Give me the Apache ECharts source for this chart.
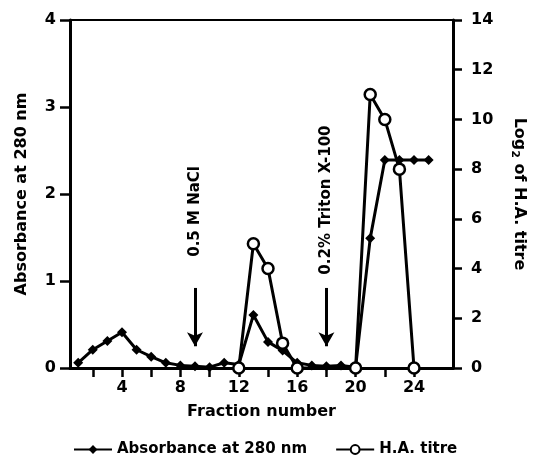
<!DOCTYPE html>
<html>
<head>
<meta charset="utf-8">
<script src="https://cdn.jsdelivr.net/npm/echarts@6/dist/echarts.min.js"></script>
<style>
html,body{margin:0;padding:0;background:#fff;}
#c{width:534px;height:460px;}
</style>
</head>
<body>
<div id="c"></div>
<script>
const fractions = [1,2,3,4,5,6,7,8,9,10,11,12,13,14,15,16,17,18,19,20,21,22,23,24,25];
const absorbance = [0.06,0.21,0.31,0.41,0.21,0.13,0.06,0.03,0.02,0.01,0.06,0.04,0.61,0.30,0.20,0.06,0.03,0.02,0.03,0.01,1.49,2.39,2.39,2.39,2.39];
const titreFractions = [12,13,14,15,16,17,18,19,20,21,22,23,24];
const titre = [0,5,4,1,0,null,null,null,0,11,10,8,0];
const xTickValues = [2,4,6,8,10,12,14,16,18,20,22,24];
const xLabelValues = [4,8,12,16,20,24];
const annotations = [
  {fraction: 9, text: '0.5 M NaCl', textY: 1.80},
  {fraction: 18, text: '0.2% Triton X-100', textY: 1.93}
];
const arrowTop = 0.92, arrowEnd = 0.25;

const FONT = 'DejaVu Sans';
const chart = echarts.init(document.getElementById('c'));
const axisLineStyle = {color:'#000', width:3};
chart.setOption({
  animation: false,
  backgroundColor: '#fff',
  grid: {left:70, right:81, top:20, bottom:92, show:true, borderColor:'#000', borderWidth:2, outerBoundsMode:'none', containLabel:false},
  legend: {
    left: 68, top: 437, itemWidth: 38, itemHeight: 11, itemGap: 28,
    textStyle: {fontFamily: FONT, fontWeight:'bold', fontSize:15, color:'#000'},
    data: ['Absorbance at 280 nm', 'H.A. titre']
  },
  xAxis: {
    type:'value', min:0.44, max:26.67,
    name:'Fraction number', nameLocation:'middle', nameGap:36,
    nameTextStyle:{fontFamily:FONT, fontWeight:'bold', fontSize:16, color:'#000'},
    axisLine:{lineStyle:axisLineStyle},
    axisTick:{show:true, length:9, lineStyle:{color:'#000', width:2.5}, customValues:xTickValues},
    axisLabel:{fontFamily:FONT, fontWeight:'bold', fontSize:16, color:'#000', margin:12, customValues:xLabelValues},
    splitLine:{show:false}
  },
  yAxis: [{
    type:'value', min:0, max:4, interval:1, position:'left',
    name:'Absorbance at 280 nm', nameLocation:'middle', nameGap:40, nameRotate:90,
    nameTextStyle:{fontFamily:FONT, fontWeight:'bold', fontSize:16, color:'#000'},
    axisLine:{show:true, lineStyle:axisLineStyle},
    axisTick:{show:true, length:10, lineStyle:{color:'#000', width:2.5}},
    axisLabel:{fontFamily:FONT, fontWeight:'bold', fontSize:16, color:'#000', margin:14},
    splitLine:{show:false}
  },{
    type:'value', min:0, max:14, interval:2, position:'right',
    name:'{a|Log}{s|2}{a| of H.A. titre}', nameLocation:'middle', nameGap:56, nameRotate:-90,
    nameTextStyle:{rich:{
      a:{fontFamily:FONT, fontWeight:'bold', fontSize:16, color:'#000', lineHeight:20},
      s:{fontFamily:FONT, fontWeight:'bold', fontSize:11, color:'#000', padding:[8,0,0,0], lineHeight:20}
    }},
    axisLine:{show:true, lineStyle:axisLineStyle},
    axisTick:{show:true, length:9, lineStyle:{color:'#000', width:2.5}},
    axisLabel:{fontFamily:FONT, fontWeight:'bold', fontSize:16, color:'#000', margin:18},
    splitLine:{show:false}
  }],
  series: [{
    name:'Absorbance at 280 nm', type:'line', yAxisIndex:0,
    data: fractions.map((f,i)=>[f, absorbance[i]]),
    symbol:'diamond', symbolSize:10,
    itemStyle:{color:'#000'},
    lineStyle:{color:'#000', width:3},
    markLine:{
      silent:true, symbol:['none','arrow'], symbolSize:[12,14],
      lineStyle:{color:'#000', width:3, type:'solid'},
      label:{show:false},
      data: annotations.map(a=>[{coord:[a.fraction, arrowTop]},{coord:[a.fraction, arrowEnd]}])
    },
    markPoint:{
      silent:true, symbol:'circle', symbolSize:1,
      itemStyle:{color:'rgba(0,0,0,0)'},
      label:{show:true, position:'inside', rotate:90, fontFamily:FONT, fontWeight:'bold', fontSize:15, color:'#000',
        formatter: p => p.name},
      data: annotations.map(a=>({name:a.text, coord:[a.fraction, a.textY]}))
    },
    z:2
  },{
    name:'H.A. titre', type:'line', yAxisIndex:1,
    data: titreFractions.map((f,i)=>[f, titre[i]]),
    connectNulls:true,
    symbol:'circle', symbolSize:11,
    itemStyle:{color:'#fff', borderColor:'#000', borderWidth:2.5},
    lineStyle:{color:'#000', width:3},
    z:3
  }]
});
</script>
</body>
</html>
